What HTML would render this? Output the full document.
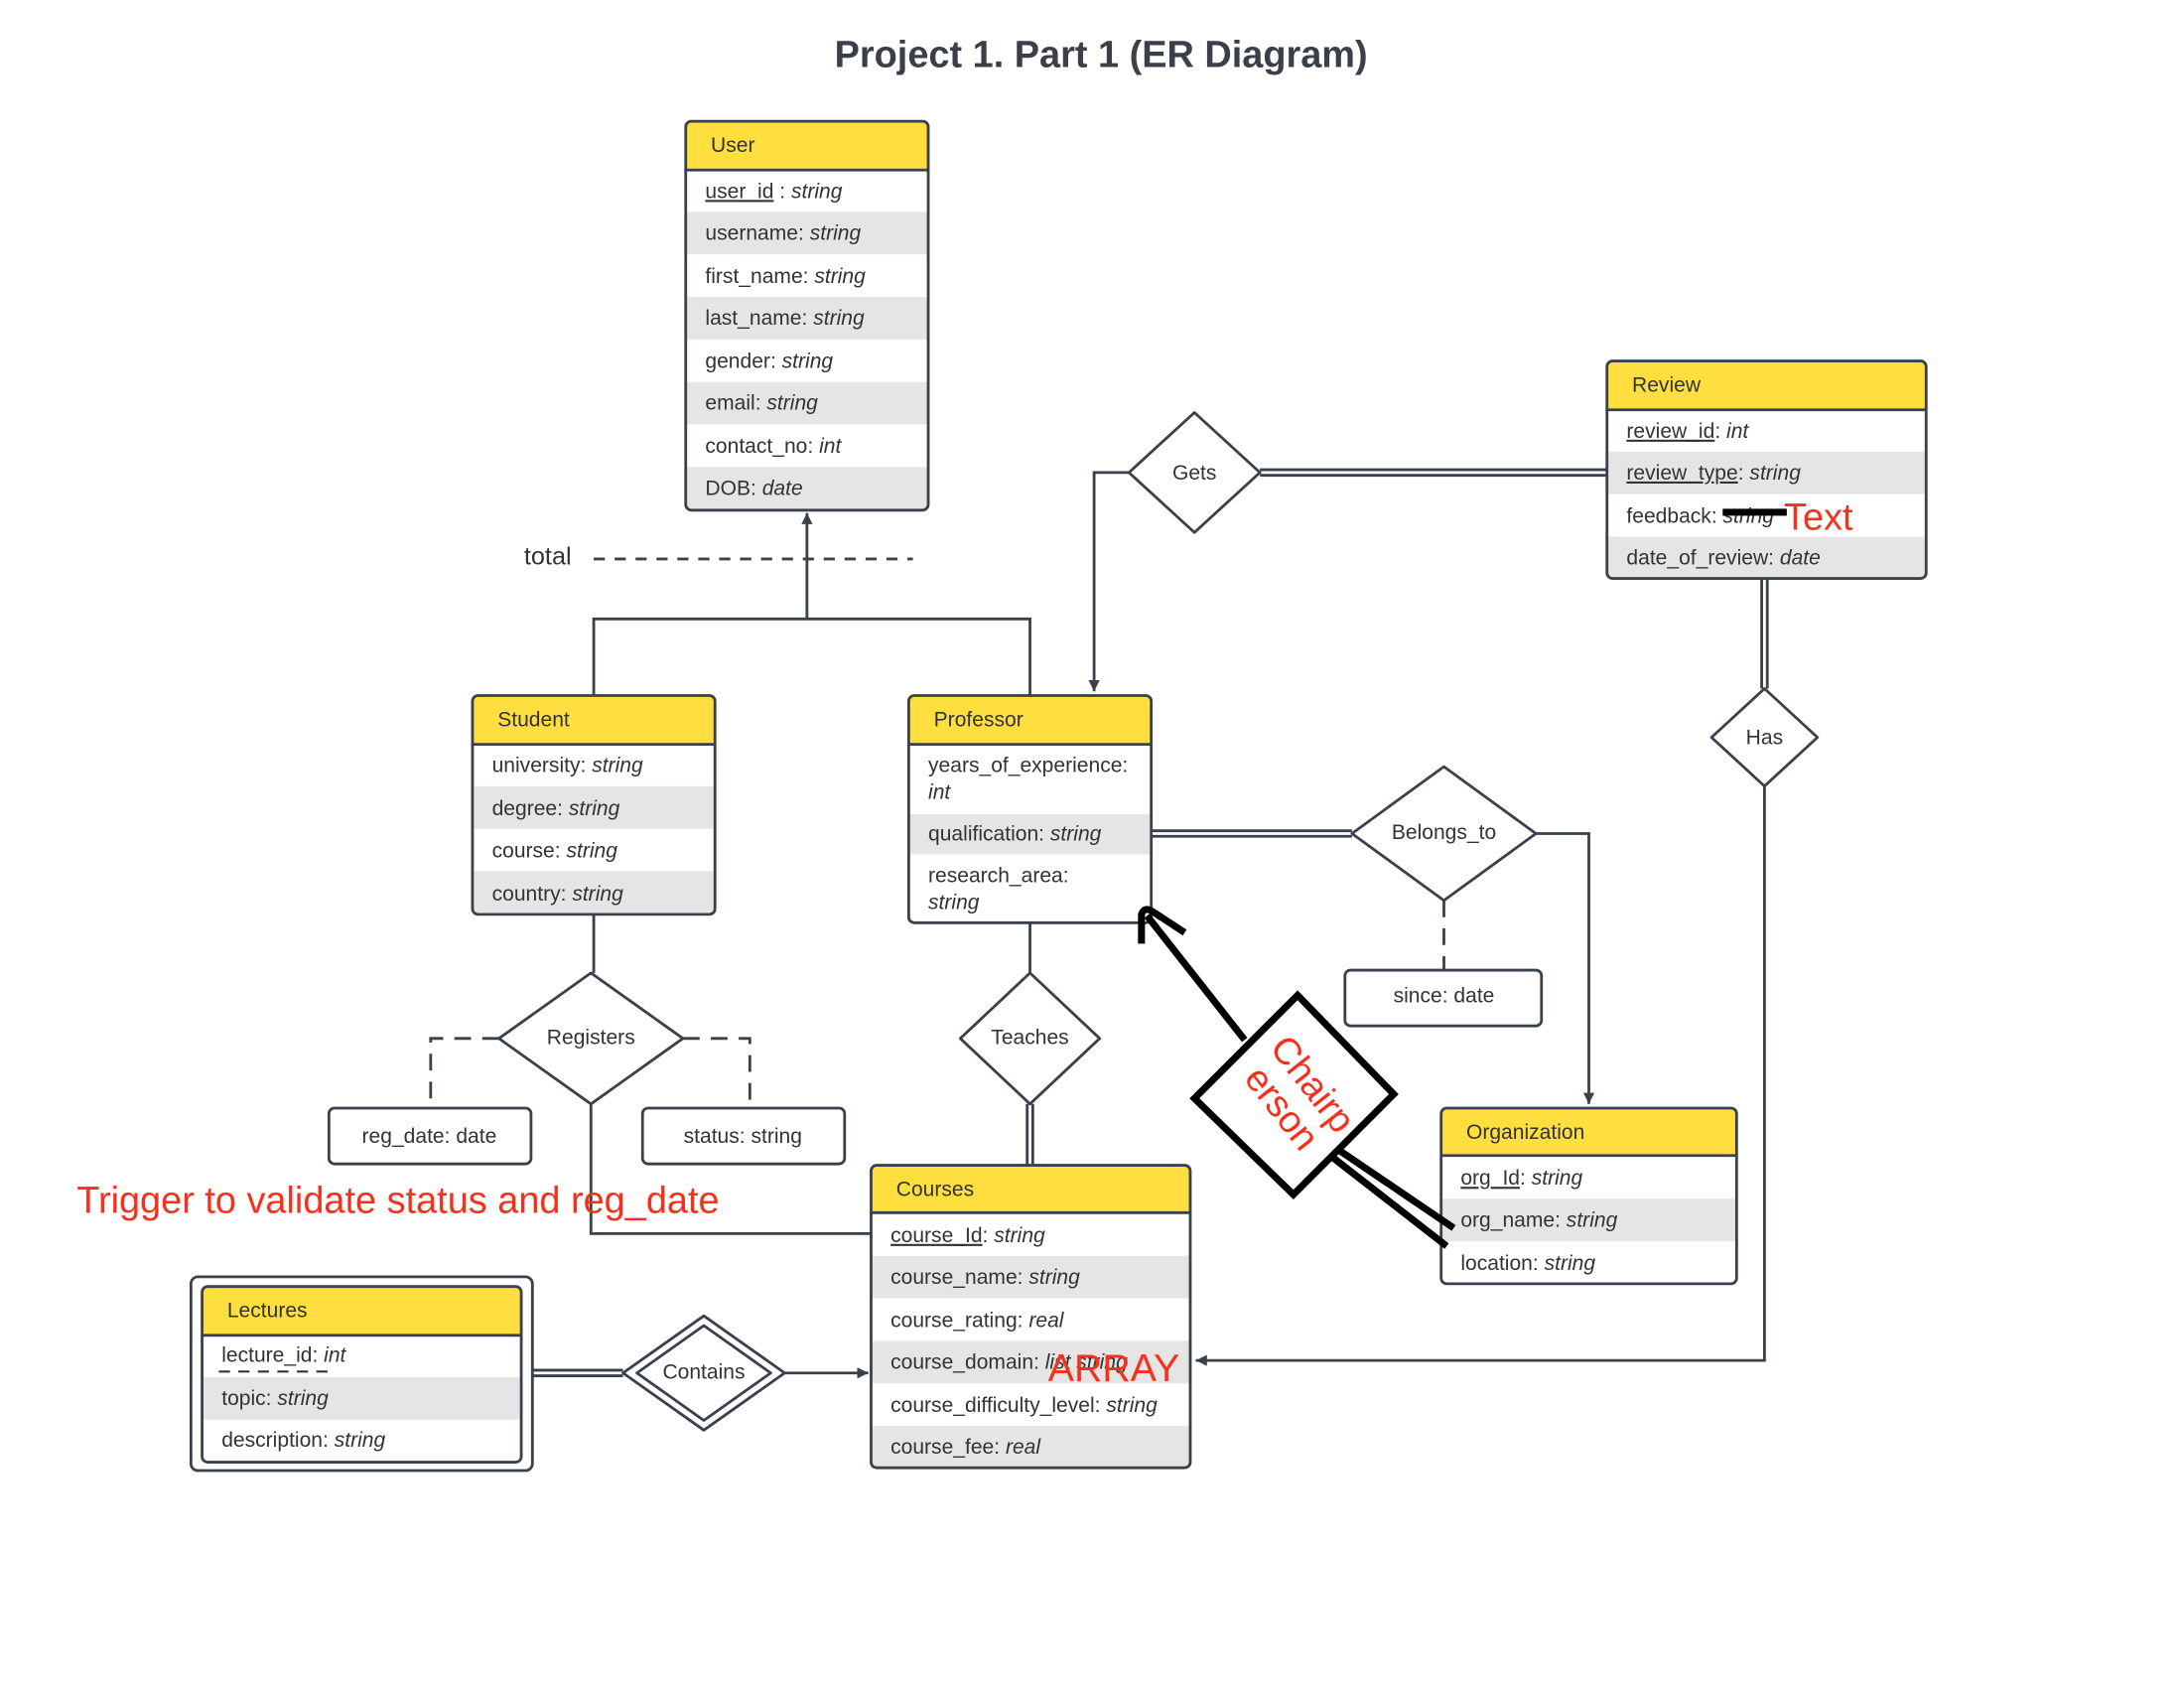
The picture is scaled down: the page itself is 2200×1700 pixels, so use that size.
<!DOCTYPE html>
<html><head><meta charset="utf-8"><style>
html,body{margin:0;padding:0;background:#fff;}
svg{display:block;}
text{font-family:"Liberation Sans",sans-serif;fill:#333;}
.i{font-style:italic;}
</style></head><body>
<svg width="2200" height="1700" viewBox="0 0 1567 1211" preserveAspectRatio="none" xmlns="http://www.w3.org/2000/svg">
<defs>
<marker id="ar" viewBox="0 0 10 10" refX="10" refY="5" markerWidth="8" markerHeight="8" orient="auto-start-reverse" markerUnits="userSpaceOnUse"><path d="M0,0 L10,5 L0,10 z" fill="#3a414a"/></marker>
</defs>
<rect width="1567" height="1211" fill="#fff"/>
<text x="790" y="48" text-anchor="middle" font-size="27" font-weight="bold" style="fill:#3a3f48">Project 1. Part 1 (ER Diagram)</text>

<g fill="none" stroke="#3a414a" stroke-width="2">
<path d="M426,499 V444 H579 M739,499 V444 H579 V368" marker-end="url(#ar)"/>
<path d="M810,339 H785 V496" marker-end="url(#ar)"/>
<path d="M904,337 H1153 M904,341 H1153"/>
<path d="M1264,415 V494 M1268,415 V494"/>
<path d="M1266,564 V976 H858" marker-end="url(#ar)"/>
<path d="M826,596 H970 M826,600 H970"/>
<path d="M1102,598 H1140 V792" marker-end="url(#ar)"/>
<path d="M1036,646 V696" stroke-dasharray="12,8"/>
<path d="M426,656 V698"/>
<path d="M358,745 H309 V795 M490,745 H538 V795" stroke-dasharray="12,8"/>
<path d="M424,792 V885 H625"/>
<path d="M739,662 V698"/>
<path d="M737,792 V836 M741,792 V836"/>
<path d="M382,983 H447 M382,987 H447"/>
<path d="M563,985 H623" marker-end="url(#ar)"/>
<path d="M426,401 H655" stroke-dasharray="8,7"/>
</g>
<text x="376" y="405" font-size="18">total</text>

<g fill="#fff" stroke="#3a414a" stroke-width="2" stroke-linejoin="round">
<polygon points="857,296 904,339 857,382 810,339"/>
<polygon points="1266,494 1304,529 1266,564 1228,529"/>
<polygon points="1036,550 1102,598 1036,646 970,598"/>
<polygon points="424,698 490,745 424,792 358,745"/>
<polygon points="739,698 789,745 739,792 689,745"/>
<polygon points="505,944 563,985 505,1026 447,985"/>
<polygon points="505,951 553,985 505,1019 457,985"/>
</g>
<g font-size="15" text-anchor="middle">
<text x="857" y="344">Gets</text>
<text x="1266" y="534">Has</text>
<text x="1036" y="602">Belongs_to</text>
<text x="424" y="749">Registers</text>
<text x="739" y="749">Teaches</text>
<text x="505" y="989">Contains</text>
</g>

<g fill="#fff" stroke="#3a414a" stroke-width="2">
<rect x="236" y="795" width="145" height="40" rx="4"/>
<rect x="461" y="795" width="145" height="40" rx="4"/>
<rect x="965" y="696" width="141" height="40" rx="4"/>
</g>
<g font-size="15" text-anchor="middle">
<text x="308" y="820">reg_date: date</text>
<text x="533" y="820">status: string</text>
<text x="1036" y="719">since: date</text>
</g>

<g>
<rect x="492" y="87" width="174" height="279" rx="4" fill="#fff"/>
<rect x="493" y="152" width="172" height="30.5" fill="#e5e5e5"/>
<rect x="493" y="213" width="172" height="30.5" fill="#e5e5e5"/>
<rect x="493" y="274" width="172" height="30.5" fill="#e5e5e5"/>
<rect x="493" y="335" width="172" height="30" fill="#e5e5e5"/>
<path d="M492,122 V91 a4,4 0 0 1 4,-4 H662 a4,4 0 0 1 4,4 V122 Z" fill="#ffdf3f"/>
<rect x="492" y="87" width="174" height="279" rx="4" fill="none" stroke="#3a414a" stroke-width="2"/>
<line x1="492" y1="122" x2="666" y2="122" stroke="#3a414a" stroke-width="2"/>
<g font-size="15">
<text x="510" y="109">User</text>
<text x="506" y="142"><tspan text-decoration="underline">user_id</tspan> : <tspan class="i">string</tspan></text>
<text x="506" y="172">username: <tspan class="i">string</tspan></text>
<text x="506" y="203">first_name: <tspan class="i">string</tspan></text>
<text x="506" y="233">last_name: <tspan class="i">string</tspan></text>
<text x="506" y="264">gender: <tspan class="i">string</tspan></text>
<text x="506" y="294">email: <tspan class="i">string</tspan></text>
<text x="506" y="325">contact_no: <tspan class="i">int</tspan></text>
<text x="506" y="355">DOB: <tspan class="i">date</tspan></text>
</g>
</g>

<g>
<rect x="1153" y="259" width="229" height="156" rx="4" fill="#fff"/>
<rect x="1154" y="324" width="227" height="30.5" fill="#e5e5e5"/>
<rect x="1154" y="385" width="227" height="29" fill="#e5e5e5"/>
<path d="M1153,294 V263 a4,4 0 0 1 4,-4 H1378 a4,4 0 0 1 4,4 V294 Z" fill="#ffdf3f"/>
<rect x="1153" y="259" width="229" height="156" rx="4" fill="none" stroke="#3a414a" stroke-width="2"/>
<line x1="1153" y1="294" x2="1382" y2="294" stroke="#3a414a" stroke-width="2"/>
<g font-size="15">
<text x="1171" y="281">Review</text>
<text x="1167" y="314"><tspan text-decoration="underline">review_id</tspan>: <tspan class="i">int</tspan></text>
<text x="1167" y="344"><tspan text-decoration="underline">review_type</tspan>: <tspan class="i">string</tspan></text>
<text x="1167" y="375">feedback: <tspan class="i">string</tspan></text>
<text x="1167" y="405">date_of_review: <tspan class="i">date</tspan></text>
</g>
<rect x="1236" y="365" width="46" height="5" fill="#000"/>
<text x="1280" y="380" font-size="27" style="fill:#f5311e">Text</text>
</g>

<g>
<rect x="339" y="499" width="174" height="157" rx="4" fill="#fff"/>
<rect x="340" y="564" width="172" height="30.5" fill="#e5e5e5"/>
<rect x="340" y="625" width="172" height="30" fill="#e5e5e5"/>
<path d="M339,534 V503 a4,4 0 0 1 4,-4 H509 a4,4 0 0 1 4,4 V534 Z" fill="#ffdf3f"/>
<rect x="339" y="499" width="174" height="157" rx="4" fill="none" stroke="#3a414a" stroke-width="2"/>
<line x1="339" y1="534" x2="513" y2="534" stroke="#3a414a" stroke-width="2"/>
<g font-size="15">
<text x="357" y="521">Student</text>
<text x="353" y="554">university: <tspan class="i">string</tspan></text>
<text x="353" y="585">degree: <tspan class="i">string</tspan></text>
<text x="353" y="615">course: <tspan class="i">string</tspan></text>
<text x="353" y="646">country: <tspan class="i">string</tspan></text>
</g>
</g>

<g>
<rect x="652" y="499" width="174" height="163" rx="4" fill="#fff"/>
<rect x="653" y="584" width="172" height="29" fill="#e5e5e5"/>
<path d="M652,534 V503 a4,4 0 0 1 4,-4 H822 a4,4 0 0 1 4,4 V534 Z" fill="#ffdf3f"/>
<rect x="652" y="499" width="174" height="163" rx="4" fill="none" stroke="#3a414a" stroke-width="2"/>
<line x1="652" y1="534" x2="826" y2="534" stroke="#3a414a" stroke-width="2"/>
<g font-size="15">
<text x="670" y="521">Professor</text>
<text x="666" y="554">years_of_experience:</text>
<text x="666" y="573" class="i">int</text>
<text x="666" y="603">qualification: <tspan class="i">string</tspan></text>
<text x="666" y="633">research_area:</text>
<text x="666" y="652" class="i">string</text>
</g>
</g>

<g>
<rect x="625" y="836" width="229" height="217" rx="4" fill="#fff"/>
<rect x="626" y="901" width="227" height="30.5" fill="#e5e5e5"/>
<rect x="626" y="962" width="227" height="30.5" fill="#e5e5e5"/>
<rect x="626" y="1023" width="227" height="29" fill="#e5e5e5"/>
<path d="M625,870 V840 a4,4 0 0 1 4,-4 H850 a4,4 0 0 1 4,4 V870 Z" fill="#ffdf3f"/>
<rect x="625" y="836" width="229" height="217" rx="4" fill="none" stroke="#3a414a" stroke-width="2"/>
<line x1="625" y1="870" x2="854" y2="870" stroke="#3a414a" stroke-width="2"/>
<g font-size="15">
<text x="643" y="858">Courses</text>
<text x="639" y="891"><tspan text-decoration="underline">course_Id</tspan>: <tspan class="i">string</tspan></text>
<text x="639" y="921">course_name: <tspan class="i">string</tspan></text>
<text x="639" y="952">course_rating: <tspan class="i">real</tspan></text>
<text x="639" y="982">course_domain: <tspan class="i">list string</tspan></text>
<text x="639" y="1013">course_difficulty_level: <tspan class="i">string</tspan></text>
<text x="639" y="1043">course_fee: <tspan class="i">real</tspan></text>
</g>
<text x="752" y="991" font-size="28" style="fill:#f5311e">ARRAY</text>
</g>

<g>
<rect x="1034" y="795" width="212" height="126" rx="4" fill="#fff"/>
<rect x="1035" y="860" width="210" height="30.5" fill="#e5e5e5"/>
<path d="M1034,829 V799 a4,4 0 0 1 4,-4 H1242 a4,4 0 0 1 4,4 V829 Z" fill="#ffdf3f"/>
<rect x="1034" y="795" width="212" height="126" rx="4" fill="none" stroke="#3a414a" stroke-width="2"/>
<line x1="1034" y1="829" x2="1246" y2="829" stroke="#3a414a" stroke-width="2"/>
<g font-size="15">
<text x="1052" y="817">Organization</text>
<text x="1048" y="850"><tspan text-decoration="underline">org_Id</tspan>: <tspan class="i">string</tspan></text>
<text x="1048" y="880">org_name: <tspan class="i">string</tspan></text>
<text x="1048" y="911">location: <tspan class="i">string</tspan></text>
</g>
</g>

<g>
<rect x="137" y="916" width="245" height="139" rx="5" fill="#fff" stroke="#3a414a" stroke-width="2"/>
<rect x="146" y="988" width="227" height="30.5" fill="#e5e5e5"/>
<path d="M145,958 V927 a4,4 0 0 1 4,-4 H370 a4,4 0 0 1 4,4 V958 Z" fill="#ffdf3f"/>
<rect x="145" y="923" width="229" height="126" rx="4" fill="none" stroke="#3a414a" stroke-width="2"/>
<line x1="145" y1="958" x2="374" y2="958" stroke="#3a414a" stroke-width="2"/>
<g font-size="15">
<text x="163" y="945">Lectures</text>
<text x="159" y="977">lecture_id: <tspan class="i">int</tspan></text>
<text x="159" y="1008">topic: <tspan class="i">string</tspan></text>
<text x="159" y="1038">description: <tspan class="i">string</tspan></text>
</g>
<line x1="157" y1="984" x2="235" y2="984" stroke="#333" stroke-width="1.5" stroke-dasharray="8,6"/>
</g>

<g fill="none" stroke="#000" stroke-width="5" stroke-linejoin="miter">
<polygon points="931,714 1000,785 928,857 857,788" fill="#fff"/>
<path d="M893,746 L823,657"/>
<path d="M819,677 L819,656 Q821,650 827,654 L850,669" stroke-linejoin="round"/>
<path d="M962,826 L1043,881 M957,831 L1038,894"/>
</g>
<g transform="translate(930,787) rotate(52)" font-size="27" text-anchor="middle">
<text x="0" y="-6" style="fill:#f5311e">Chairp</text>
<text x="0" y="22" style="fill:#f5311e">erson</text>
</g>

<text x="55" y="870" font-size="27" style="fill:#f5311e">Trigger to validate status and reg_date</text>
</svg>
</body></html>
